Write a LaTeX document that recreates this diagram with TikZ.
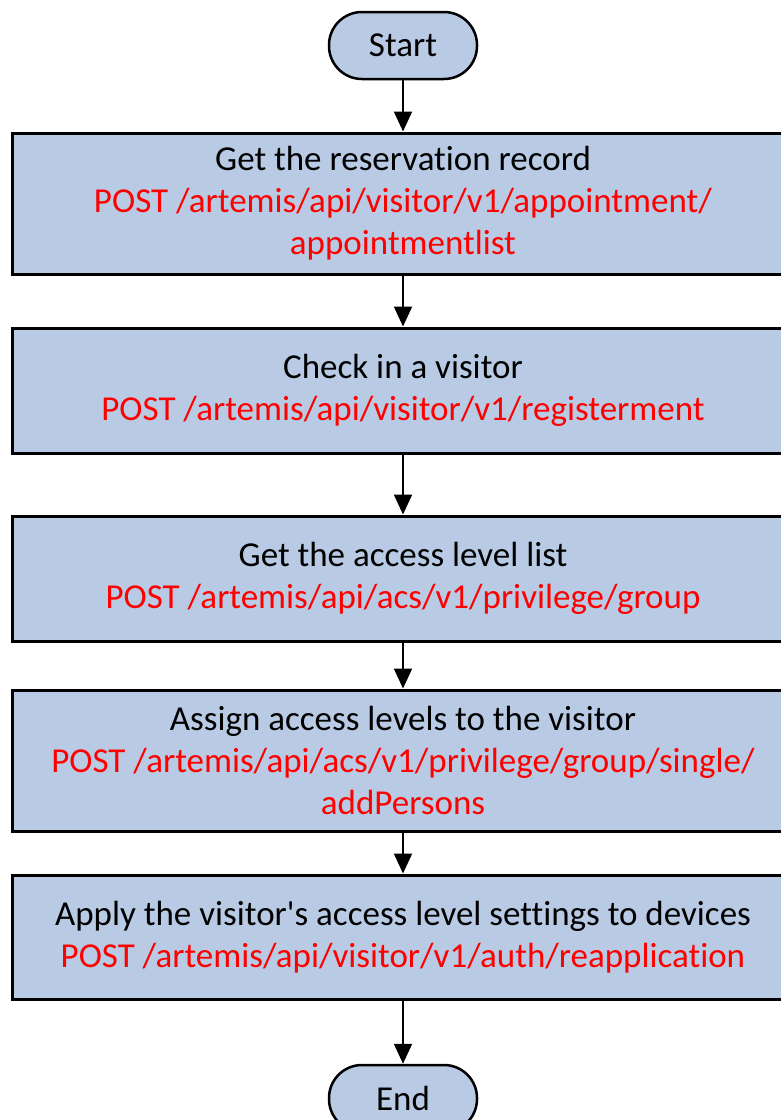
\documentclass[tikz,border=0pt]{standalone}
\usepackage{fontspec}
\setmainfont{Carlito}[Ligatures={TeXOff,NoCommon}]
\usetikzlibrary{arrows.meta}
\definecolor{boxblue}{RGB}{185,203,228}

\begin{document}
\begin{tikzpicture}[x=1pt,y=-1pt,
    every node/.style={font=\fontsize{35}{42}\selectfont},
    terminal/.style={draw,line width=2.5pt,fill=boxblue,rounded corners=33pt,
      minimum width=148pt,minimum height=67pt,inner sep=0pt},
    stepbox/.style={draw,line width=3pt,fill=boxblue,minimum width=782pt,
      align=center,inner sep=0pt},
    flow/.style={line width=2pt,-{Triangle[width=18pt,length=20pt]}}]
  \useasboundingbox (0,0) rectangle (781,1120);

  \node [terminal] (start) at (403,45.5) {Start};

  \node [stepbox,minimum height=141pt] (record) at (403,203.5)
    {Get the reservation record\\
     \textcolor{red}{POST /artemis/api/visitor/v1/appointment/}\\
     \textcolor{red}{appointmentlist}};

  \node [stepbox,minimum height=125pt] (checkin) at (403,390.5)
    {Check in a visitor\\
     \textcolor{red}{POST /artemis/api/visitor/v1/registerment}};

  \node [stepbox,minimum height=125pt] (levels) at (403,578.5)
    {Get the access level list\\
     \textcolor{red}{POST /artemis/api/acs/v1/privilege/group}};

  \node [stepbox,minimum height=141pt] (assign) at (403,760.5)
    {Assign access levels to the visitor\\
     \textcolor{red}{POST /artemis/api/acs/v1/privilege/group/single/}\\
     \textcolor{red}{addPersons}};

  \node [stepbox,minimum height=124pt] (apply) at (403,937)
    {Apply the visitor's access level settings to devices\\
     \textcolor{red}{POST /artemis/api/visitor/v1/auth/reapplication}};

  \node [terminal] (end) at (403,1098.5) {End};

  \draw [flow] (start.south) -- (record.north);
  \draw [flow] (record.south) -- (checkin.north);
  \draw [flow] (checkin.south) -- (levels.north);
  \draw [flow] (levels.south) -- (assign.north);
  \draw [flow] (assign.south) -- (apply.north);
  \draw [flow] (apply.south) -- (end.north);

\end{tikzpicture}
\end{document}
